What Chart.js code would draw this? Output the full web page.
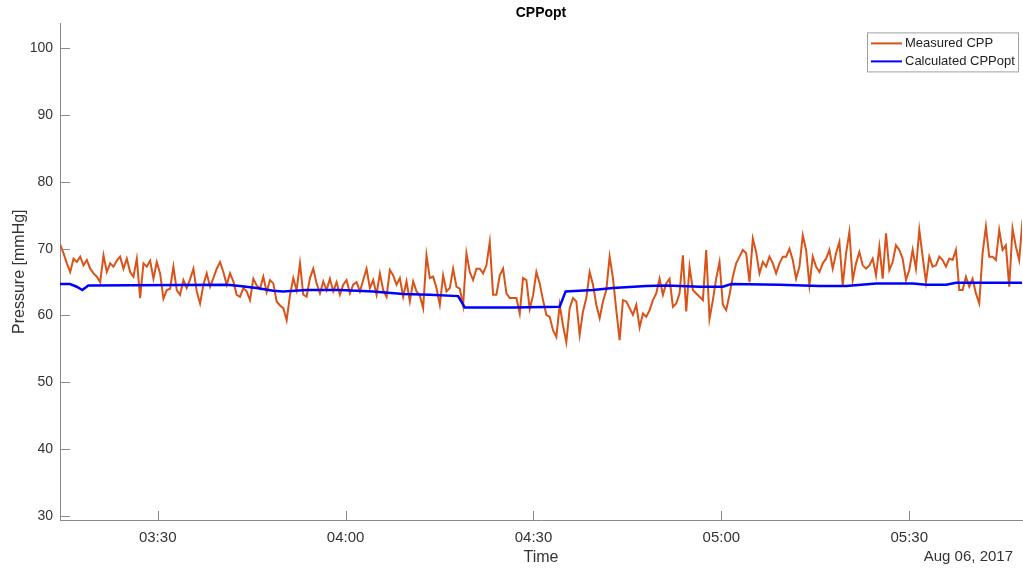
<!DOCTYPE html>
<html>

<head>
    <meta charset="utf-8">
    <title>CPPopt</title>
    <script src="https://cdn.jsdelivr.net/npm/chart.js"></script>
    <style>
        body { margin: 0; background: #fff; }
    </style>
</head>

<body>

    <canvas id="myChart" width="1023" height="569"></canvas>

    <script>
        // measured CPP, one sample every cppInterval seconds starting at cppStart
        var cppStart = '03:14:26';
        var cppInterval = 31.9;
        var measuredCpp = [
            70.6, 69.3, 67.8, 66.5, 68.5, 68.0, 68.8, 67.5, 68.3, 67.0,
            66.3, 65.8, 65.0, 69.0, 66.5, 67.8, 67.3, 68.2, 68.8, 67.0,
            68.5, 66.5, 65.8, 68.5, 62.6, 67.8, 67.3, 68.2, 65.5, 68.0,
            66.3, 62.5, 63.8, 64.0, 67.3, 63.8, 63.1, 65.3, 64.1, 65.4,
            67.0, 63.6, 61.8, 64.6, 66.3, 64.3, 65.6, 67.0, 68.0, 66.5,
            64.6, 66.3, 65.1, 63.1, 62.8, 64.1, 63.6, 62.3,

            65.5, 64.5, 64.0, 65.8, 63.5, 65.3, 64.8, 62.1, 61.5, 61.1,
            59.3, 63.0, 65.6, 63.8, 67.8, 63.1, 62.8, 65.6, 67.0, 64.8,
            63.3, 65.1, 63.8, 65.5, 63.6, 65.0, 63.1, 64.6, 65.3, 63.3,
            64.6, 65.0, 63.6, 65.3, 67.0, 64.1, 65.3, 63.1, 66.3, 63.8,
            62.8, 66.8, 66.0, 64.6, 65.6, 62.8, 65.1, 62.1, 65.1, 63.6,
            63.0, 61.1, 69.0, 65.6, 65.8, 64.1, 61.6, 66.0,

            63.6, 64.1, 67.0, 64.3, 64.0, 61.5, 69.3, 66.5, 65.3, 67.0,
            67.0, 66.3, 67.5, 71.0, 63.1, 63.1, 66.0, 67.0, 63.3, 62.6,
            62.6, 62.6, 60.3, 65.6, 65.3, 61.0, 63.0, 66.5, 64.8, 62.3,
            60.1, 59.8, 57.8, 56.8, 61.6, 58.5, 56.0, 61.1, 62.6, 62.1,
            57.1, 60.6, 62.6, 66.5, 64.6, 61.6, 59.6, 62.1, 63.8, 68.8,
            65.6, 60.8, 56.3, 62.3, 62.1, 61.1, 60.1, 61.6,

            58.2, 60.3, 59.8, 60.8, 62.3, 63.3, 65.5, 63.1, 64.8, 65.5,
            61.3, 61.8, 63.3, 69.0, 60.6, 67.3, 63.8, 63.3, 62.8, 62.3,
            69.8, 59.5, 62.3, 65.5, 68.0, 61.6, 60.8, 63.1, 65.8, 67.8,
            68.8, 69.8, 69.3, 65.0, 71.5, 69.5, 66.3, 68.0, 67.3, 68.8,
            67.8, 66.3, 67.8, 68.8, 68.8, 70.0, 68.3, 65.5, 67.3, 72.0,
            69.8, 64.5, 68.8, 67.3, 66.5, 67.8, 68.5, 69.8,

            67.0, 69.3, 71.0, 64.5, 69.3, 72.5, 65.3, 67.8, 69.5, 67.5,
            67.0, 67.5, 68.5, 66.0, 70.3, 65.5, 72.3, 66.8, 68.0, 70.5,
            69.8, 68.5, 65.3, 66.8, 69.8, 67.0, 72.8, 68.8, 65.0, 68.8,
            67.3, 67.5, 68.8, 68.3, 67.3, 68.5, 68.3, 69.8, 63.8, 63.8,
            65.8, 64.3, 65.5, 63.3, 61.8, 69.3, 73.3, 68.8, 68.8, 68.3,
            72.8, 69.8, 70.5, 64.3, 73.0, 70.3, 68.3, 74.3
        ];

        // calculated CPPopt (breakpoints)
        var optTimes = ['03:14:24', '03:16:00', '03:17:04', '03:17:58', '03:18:55', '03:41:03', '03:43:07',
            '03:45:47', '03:48:26', '03:49:59', '03:53:46', '03:59:05', '04:04:23', '04:09:11', '04:13:26',
            '04:17:58', '04:19:02', '04:26:44', '04:34:11', '04:35:08', '04:39:30', '04:42:41', '04:48:01',
            '04:51:13', '04:56:32', '05:00:14', '05:01:35', '05:09:17', '05:15:40', '05:19:56', '05:24:43',
            '05:30:34', '05:32:42', '05:35:53', '05:37:29', '05:48:00'];
        var optValues = [64.7, 64.7, 64.3, 63.8, 64.5, 64.6, 64.4, 64.1, 63.7, 63.6, 63.8, 63.8, 63.6,
            63.2, 63.1, 62.9, 61.2, 61.2, 61.3, 63.6, 63.8, 64.1, 64.4, 64.5, 64.3, 64.3, 64.7, 64.6,
            64.4, 64.4, 64.8, 64.8, 64.6, 64.6, 64.9, 64.9];

        var xTickLabels = ['03:30', '04:00', '04:30', '05:00', '05:30'];
        var yTicks = [30, 40, 50, 60, 70, 80, 90, 100];
        var xRange = ['03:14:24', '05:48:00'];
        var yRange = [29.4, 103.7];
        var dateLabel = 'Aug 06, 2017';

        var font = '"Liberation Sans", Arial, Helvetica, sans-serif';
        var axisColor = '#8a8a8a';
        var textColor = '#333333';

        function toMin(s) {
            var p = s.split(':').map(Number);
            return p[0] * 60 + p[1] + (p[2] || 0) / 60;
        }

        function fmt(m) {
            var h = Math.floor(m / 60);
            var mm = Math.round(m - h * 60);
            return (h < 10 ? '0' : '') + h + ':' + (mm < 10 ? '0' : '') + mm;
        }

        var t0 = toMin(cppStart);

        // MATLAB style ticks pointing into the plot
        var innerTicks = {
            id: 'innerTicks',
            afterDraw(chart) {
                const c = chart.ctx, a = chart.chartArea;
                c.save();
                c.strokeStyle = axisColor;
                c.lineWidth = 1;
                c.beginPath();
                yTicks.forEach(v => {
                    const y = Math.round(chart.scales.y.getPixelForValue(v)) + 0.5;
                    c.moveTo(a.left, y);
                    c.lineTo(a.left + 10, y);
                });
                xTickLabels.forEach(t => {
                    const x = Math.round(chart.scales.x.getPixelForValue(toMin(t))) + 0.5;
                    c.moveTo(x, a.bottom);
                    c.lineTo(x, a.bottom - 9);
                });
                c.stroke();

                // date under the last tick
                c.fillStyle = textColor;
                c.font = '15px ' + font;
                c.textAlign = 'right';
                c.textBaseline = 'middle';
                c.fillText(dateLabel, a.right - 9, a.bottom + 37);
                c.restore();
            }
        };

        var legendBox = {
            id: 'legendBox',
            afterDraw(chart) {
                const c = chart.ctx, a = chart.chartArea;
                const w = 151, h = 39;
                const x = a.right - 4 - w, y = a.top + 9;
                c.save();
                c.fillStyle = '#fff';
                c.fillRect(x, y, w, h);
                c.strokeStyle = '#a0a0a0';
                c.lineWidth = 1;
                c.strokeRect(x + 0.5, y + 0.5, w, h);
                c.font = '13px ' + font;
                c.textBaseline = 'middle';
                c.textAlign = 'left';
                chart.data.datasets.forEach((ds, i) => {
                    const ry = y + 11 + i * 18;
                    c.strokeStyle = ds.borderColor;
                    c.lineWidth = 2;
                    c.beginPath();
                    c.moveTo(x + 4, ry);
                    c.lineTo(x + 35, ry);
                    c.stroke();
                    c.fillStyle = '#222';
                    c.fillText(ds.label, x + 38, ry);
                });
                c.restore();
            }
        };

        var ctx = document.getElementById('myChart').getContext('2d');

        var myChart = new Chart(ctx, {
            type: 'line',
            data: {
                datasets: [{
                    label: 'Measured CPP',
                    data: measuredCpp.map((v, i) => ({ x: t0 + i * cppInterval / 60, y: v })),
                    borderColor: '#D95319',
                    borderWidth: 2,
                    pointRadius: 0,
                    order: 1
                }, {
                    label: 'Calculated CPPopt',
                    data: optTimes.map((t, i) => ({ x: toMin(t), y: optValues[i] })),
                    borderColor: '#0000FF',
                    borderWidth: 2.5,
                    pointRadius: 0,
                    order: 0
                }]
            },
            options: {
                responsive: false,
                animation: false,
                layout: { padding: { right: 1 } },
                plugins: {
                    legend: { display: false },
                    tooltip: { enabled: false },
                    title: {
                        display: true,
                        text: 'CPPopt',
                        fullSize: false,
                        color: '#000',
                        font: { family: font, size: 14, weight: 'bold', lineHeight: 1.1 },
                        padding: { top: 5, bottom: 3 }
                    }
                },
                scales: {
                    x: {
                        type: 'linear',
                        min: toMin(xRange[0]),
                        max: toMin(xRange[1]),
                        afterBuildTicks: s => { s.ticks = xTickLabels.map(t => ({ value: toMin(t) })); },
                        afterFit: s => { s.height = 49; },
                        grid: { drawOnChartArea: false, drawTicks: false },
                        border: { color: axisColor, width: 1 },
                        ticks: {
                            autoSkip: false,
                            maxRotation: 0,
                            padding: 9,
                            color: textColor,
                            font: { family: font, size: 15 },
                            callback: v => fmt(v)
                        },
                        title: {
                            display: true,
                            text: 'Time',
                            color: textColor,
                            font: { family: font, size: 16 },
                            padding: { top: 0, bottom: 2 }
                        }
                    },
                    y: {
                        min: yRange[0],
                        max: yRange[1],
                        afterBuildTicks: s => { s.ticks = yTicks.map(v => ({ value: v })); },
                        afterFit: s => { s.width = 60; },
                        grid: { drawOnChartArea: false, drawTicks: false },
                        border: { color: axisColor, width: 1 },
                        ticks: {
                            autoSkip: false,
                            padding: 7,
                            color: textColor,
                            font: { family: font, size: 14 }
                        },
                        title: {
                            display: true,
                            text: 'Pressure [mmHg]',
                            color: textColor,
                            font: { family: font, size: 16 },
                            padding: { top: 10, bottom: 0 }
                        }
                    }
                }
            },
            plugins: [innerTicks, legendBox]
        });
    </script>

</body>

</html>
